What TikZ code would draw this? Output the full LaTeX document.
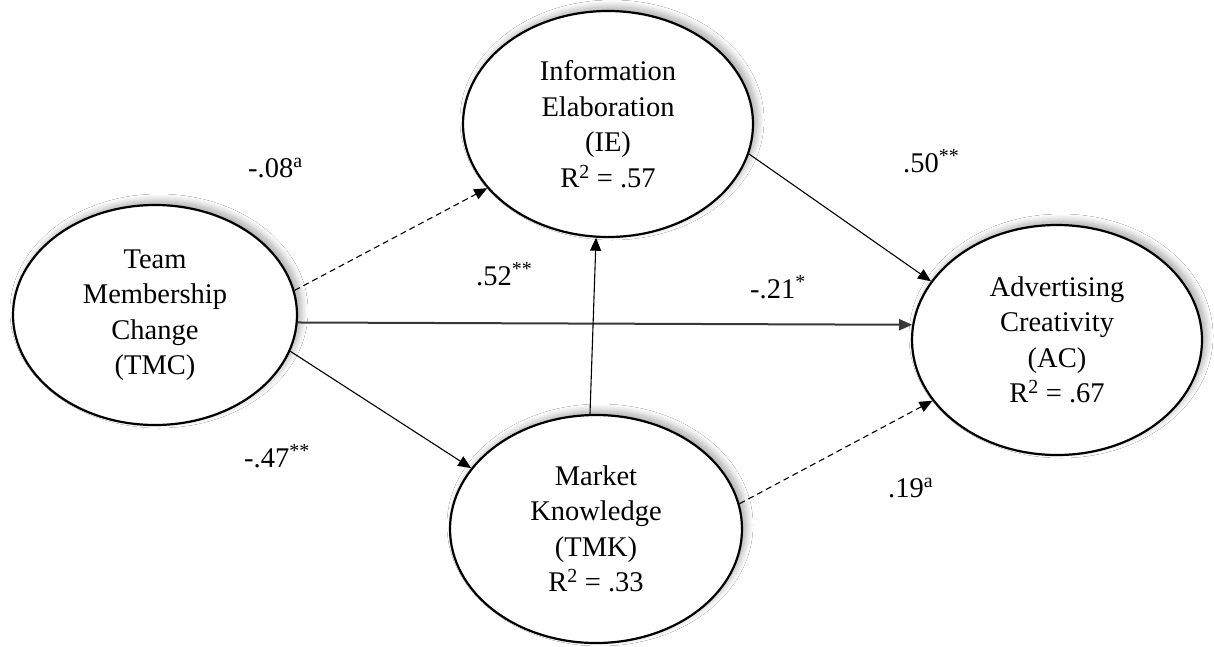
\documentclass[tikz,border=0pt]{standalone}
\usepackage{fontspec}
\setmainfont{Liberation Serif}
\usetikzlibrary{shapes.geometric,arrows.meta,shadows.blur}
\begin{document}
\begin{tikzpicture}[x=1pt,y=-1pt,
  lat/.style={ellipse, draw, line width=2.2pt, fill=white, inner sep=0pt, align=center,
    font=\fontsize{28.5}{35.5}\selectfont,
    blur shadow={shadow xshift=4pt, shadow yshift=4pt, shadow blur radius=7pt, shadow blur steps=12, shadow opacity=35}},
  conn/.style={line width=1.1pt, -{Triangle[length=13pt,width=11pt]}},
  dsh/.style={conn, dash pattern=on 6pt off 4pt},
  hconn/.style={conn, line width=2pt, draw=black!78, -{Triangle[length=13pt,width=11pt,fill=black!78]}},
  lbl/.style={anchor=base west, inner sep=0pt, font=\fontsize{28.5}{34}\selectfont}]
\useasboundingbox (0,0) rectangle (1214,646);
\fill[white] (0,0) rectangle (1214,646);
\node[lat, minimum width=284pt, minimum height=220pt] (tmc) at (155,315) {Team\\Membership\\Change\\(TMC)};
\node[lat, minimum width=290pt, minimum height=226pt] (ie) at (608,124) {Information\\Elaboration\\(IE)\\R\textsuperscript{2} = .57};
\node[lat, minimum width=292pt, minimum height=228pt] (mk) at (596,529) {Market\\Knowledge\\(TMK)\\R\textsuperscript{2} = .33};
\node[lat, minimum width=290pt, minimum height=230pt] (ac) at (1057,340) {Advertising\\Creativity\\(AC)\\R\textsuperscript{2} = .67};

\draw[dsh] (tmc.10) -- (ie.208.6);
\draw[hconn] (tmc.-3.6) -- (ac.174);
\draw[conn] (tmc.-15.4) -- (mk.154.2);
\draw[conn] (mk.93) -- (ie.264.4);
\draw[conn] (ie.-12.8) -- (ac.155.2);
\draw[dsh] (mk.10.2) -- (ac.206.4);

\node[lbl] (l1) at (248,177) {-.08\textsuperscript{a}};
\node[lbl] (l2) at (476,285) {.52\textsuperscript{**}};
\node[lbl] (l3) at (750,298) {-.21\textsuperscript{*}};
\node[lbl] (l4) at (903,172) {.50\textsuperscript{**}};
\node[lbl] (l5) at (244,467) {-.47\textsuperscript{**}};
\node[lbl] (l6) at (888,497) {.19\textsuperscript{a}};
\end{tikzpicture}
\end{document}
